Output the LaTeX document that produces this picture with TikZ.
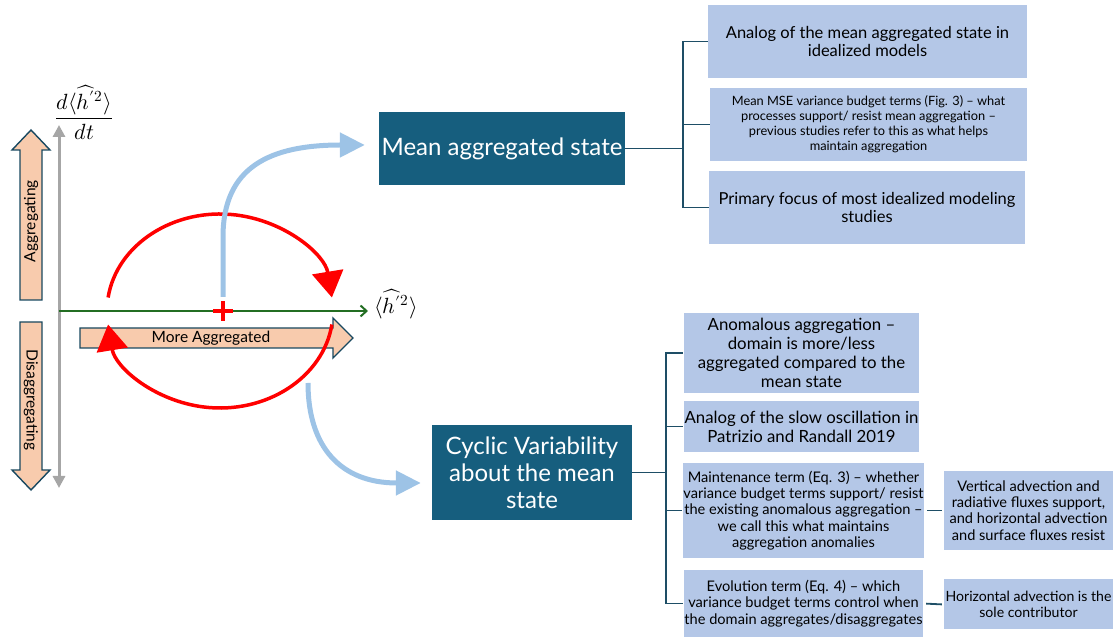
\documentclass[tikz,border=0pt]{standalone}
\usepackage{amsmath}
\usepackage{fontspec}
\usepackage{unicode-math}
\setmainfont{Lato}
\setmathfont{latinmodern-math.otf}
\usetikzlibrary{arrows.meta}
\usetikzlibrary{positioning}

\definecolor{boxteal}{RGB}{22,94,126}
\definecolor{noteblue}{RGB}{180,199,231}
\definecolor{linkteal}{RGB}{30,78,102}
\definecolor{peach}{RGB}{248,203,173}
\definecolor{peachline}{RGB}{24,72,96}
\definecolor{flowblue}{RGB}{157,195,230}
\definecolor{axisgray}{RGB}{166,166,166}
\definecolor{axisgreen}{RGB}{35,110,35}

\tikzset{
  mainbox/.style={fill=boxteal, text=white, align=center, inner sep=0pt,
    font=\fontsize{24}{27}\selectfont},
  notebox/.style={fill=noteblue, align=center, inner sep=0pt},
  bignote/.style={notebox, font=\fontsize{16.8}{19}\selectfont},
  midnote/.style={notebox, font=\fontsize{16.5}{18}\selectfont},
  smallnote/.style={notebox, font=\fontsize{14.6}{16.3}\selectfont},
  bracket/.style={draw=linkteal, line width=1.8pt},
  fatarrow/.style={fill=peach, draw=peachline, line width=1.4pt, line join=miter},
  cycle arc/.style={draw=red, line width=3.5pt, -{Triangle[width=31pt,length=26pt]}},
  flow/.style={draw=flowblue, line width=5pt, -{Triangle[width=24pt,length=25pt]}},
  mathlabel/.style={inner sep=1pt, font=\fontsize{22}{26}\selectfont},
}

\begin{document}
\begin{tikzpicture}[x=1pt,y=1pt]
    \useasboundingbox (0,0) rectangle (1117,637);

    % axes
    \coordinate (ybot) at (59,149);
    \coordinate (ytop) at (59,512);
    \coordinate (xleft) at (59,326);
    \coordinate (xright) at (368,326);
    \draw[axisgray, line width=3pt, {Triangle[width=12pt,length=12pt]}-{Triangle[width=12pt,length=12pt]}] (ybot) -- (ytop);
    \draw[axisgreen, line width=2pt, -{Straight Barb[width=11pt,length=6pt,line width=2pt]}] (xleft) -- (xright);
    \path (84,525) node (dlab) [mathlabel] {$\dfrac{d\langle\widehat{h'}{}^{2}\rangle}{dt}$}
        (396,333) node (xlab) [mathlabel] {$\langle\widehat{h'}{}^{2}\rangle$};

    % block arrows
    \draw[fatarrow] (20,337) -- (42,337) -- (42,487) -- (50,487) -- (31,507) -- (12,487) -- (20,487) -- cycle;
    \draw[fatarrow] (20,315) -- (42,315) -- (42,167) -- (50,167) -- (31,147) -- (12,167) -- (20,167) -- cycle;
    \draw[fatarrow] (80,289) -- (80,309) -- (333,309) -- (333,319) -- (353,299) -- (333,279) -- (333,289) -- cycle;
    \path (31,416) node (agg) [rotate=90, font=\fontsize{15.5}{17}\selectfont] {Aggregating}
        (31,237) node (disagg) [rotate=-90, font=\fontsize{15.5}{17}\selectfont] {Disaggregating}
        (211,299) node (more) [font=\fontsize{15.5}{17}\selectfont] {More Aggregated};

    % cycle about the mean state
    \draw[cycle arc] (220,326) ++(172:113 and 97) arc[start angle=172, end angle=8, x radius=113, y radius=97];
    \draw[cycle arc] (220,326) ++(-8:113 and 97) arc[start angle=-8, end angle=-172, x radius=113, y radius=97];
    \draw[red, line width=3.5pt] (213,326) -- (233,326) (223,316) -- (223,336);

    % main boxes
    \path (502,488.5) node (mean) [mainbox, minimum width=246pt, minimum height=73pt] {Mean aggregated state}
        (532,164.5) node (cyclic) [mainbox, minimum width=200pt, minimum height=95pt] {Cyclic Variability\\about the mean\\state};

    \coordinate (upstart) at (223,340);
    \coordinate (dnstart) at (308,254);
    \draw[flow] (upstart) -- ++(0,60) .. controls +(0,70) and +(-95,0) .. ([shift={(-14,3.5)}]mean.west);
    \draw[flow] (dnstart) .. controls +(0,-64) and +(-80,0) .. ([shift={(-11,-10.5)}]cyclic.west);

    % notes on the mean state
    \path (867.5,595.5) node (meanA) [midnote, minimum width=319pt, minimum height=73pt]
            {Analog of the mean aggregated state in\\idealized models}
        (868.5,512.5) node (meanB) [notebox, font=\fontsize{12.8}{15}\selectfont, minimum width=317pt, minimum height=73pt]
            {Mean MSE variance budget terms (Fig. 3) – what\\processes support/ resist mean aggregation –\\previous studies refer to this as what helps\\maintain aggregation}
        (867,429.5) node (meanC) [midnote, minimum width=316pt, minimum height=73pt]
            {Primary focus of most idealized modeling\\studies};

    \coordinate (ubar) at (683,488.5);
    \draw[bracket] (mean.east) -- (ubar);
    \draw[bracket] (meanA.west) -- (meanA.west -| ubar) -- (meanC.west -| ubar) -- (meanC.west);
    \draw[bracket] (meanB.west) -- (meanB.west -| ubar);

    % notes on the cyclic variability
    \path (801.5,284) node (cycA) [bignote, minimum width=235pt, minimum height=80pt]
            {Anomalous aggregation –\\domain is more/less\\aggregated compared to the\\mean state}
        (801.5,210.5) node (cycB) [bignote, minimum width=235pt, minimum height=51pt]
            {Analog of the slow oscillation in\\Patrizio and Randall 2019}
        (803.5,126.5) node (cycC) [smallnote, minimum width=239pt, minimum height=95pt]
            {Maintenance term (Eq. 3) – whether\\variance budget terms support/ resist\\the existing anomalous aggregation –\\we call this what maintains\\aggregation anomalies}
        (803.5,33.5) node (cycD) [smallnote, minimum width=239pt, minimum height=67pt]
            {Evolution term (Eq. 4) – which\\variance budget terms control when\\the domain aggregates/disaggregates}
        (1028.5,126.5) node (maintA) [smallnote, minimum width=169pt, minimum height=79pt]
            {Vertical advection and\\radiative fluxes support,\\and horizontal advection\\and surface fluxes resist}
        (1028.5,32.5) node (evolA) [smallnote, font=\fontsize{14.1}{16.3}\selectfont, minimum width=169pt, minimum height=50pt]
            {Horizontal advection is the\\sole contributor};

    \coordinate (lbar) at (666,164.5);
    \draw[bracket] (cyclic.east) -- (lbar);
    \draw[bracket] ([xshift=-1pt]cycA.west) -- (cycA.west -| lbar) -- (cycD.west -| lbar) -- ([xshift=-1pt]cycD.west);
    \draw[bracket] ([xshift=-1pt]cycB.west) -- (cycB.west -| lbar);
    \draw[bracket] ([xshift=-1pt]cycC.west) -- (cycC.west -| lbar);
    \draw[bracket, shorten <=3pt, shorten >=2pt] (cycC.east) -- (maintA.west);
    \draw[bracket, shorten <=3pt, shorten >=2pt] (cycD.east) -- (evolA.west);
\end{tikzpicture}
\end{document}
